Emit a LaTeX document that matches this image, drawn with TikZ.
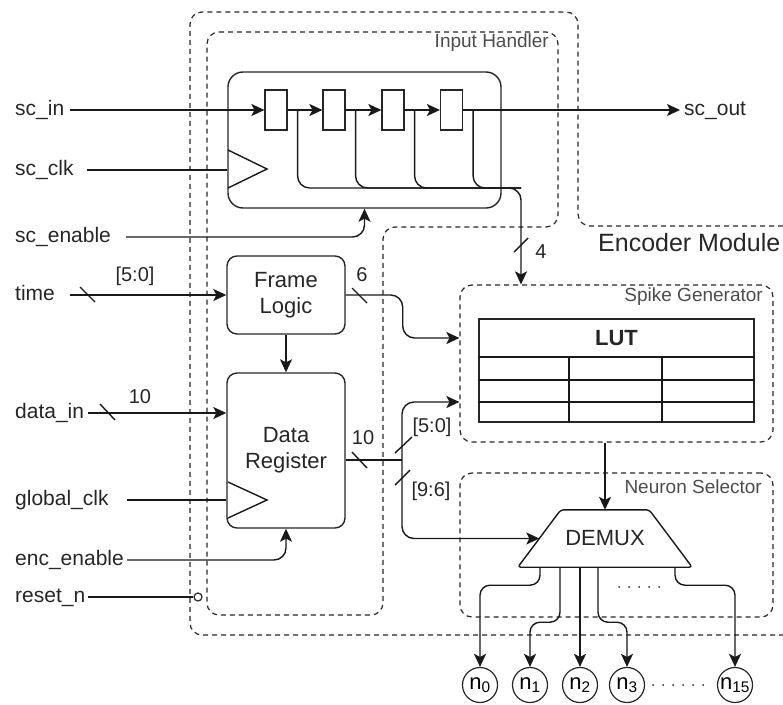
\documentclass[tikz,border=0pt]{standalone}
\usepackage{fontspec}
\setmainfont{Liberation Sans}
\usetikzlibrary{arrows.meta}
\tikzset{
  block/.style={
    rectangle, rounded corners=10pt,
    draw=black!85, line width=1.4pt,
    align=center, text=black!85,
    font=\fontsize{22}{26}\selectfont
  },
  flipflop/.style={
    rectangle, draw=black!85, line width=1.2pt,
    minimum width=22pt, minimum height=40pt, inner sep=0pt
  },
  demuxbox/.style={
    rectangle, minimum width=174pt, minimum height=57pt, inner sep=0pt,
    text=black!85, font=\fontsize{22}{26}\selectfont
  },
  region/.style={
    draw=black!85, line width=1.2pt,
    dash pattern=on 5pt off 4pt, rounded corners=12pt
  },
  regionlabel/.style={font=\fontsize{19}{22}\selectfont, text=black!70, inner sep=0pt},
  port/.style={
    font=\fontsize{21}{25}\selectfont, text=black!85,
    text height=15pt, text depth=5pt, inner sep=0pt, anchor=west
  },
  buslabel/.style={font=\fontsize{20}{24}\selectfont, text=black!85, inner sep=0pt},
  neuron/.style={
    circle, draw=black!85, line width=1.2pt,
    minimum size=35pt, inner sep=0pt,
    font=\fontsize{22}{26}\selectfont
  },
  wire/.style={draw=black!90, line width=1.4pt},
  arrow/.style={wire, -{Stealth[length=13pt, width=12pt, inset=3pt]}},
  slash/.style={wire},
  dotsline/.style={draw=black!85, line width=2pt, line cap=round, dash pattern=on 0pt off 10pt}
}

\begin{document}
\begin{tikzpicture}[x=1pt, y=-1pt]
\useasboundingbox (0,0) rectangle (783,704);

% ==============================================================================
% Regions
% ==============================================================================
\draw[region] (783,226) -- (578,226) -- (578,12) -- (190,12) -- (190,635) -- (783,635);
\node[font=\fontsize{25}{30}\selectfont, text=black!85, anchor=west, inner sep=0pt] (emlabel) at (598,243) {Encoder Module};

\draw[region] (207,32) -- (558,32) -- (558,227) -- (383,227) -- (383,615) -- (207,615) -- cycle;
\node[regionlabel, anchor=east] (ihlabel) at (549,43) {Input Handler};

\node[region, rectangle, minimum width=313pt, minimum height=157pt] (spikegen) at (616.5,363.5) {};
\node[regionlabel, anchor=east] (sglabel) at (763,297) {Spike Generator};

\node[region, rectangle, minimum width=313pt, minimum height=144pt] (neursel) at (616.5,545) {};
\node[regionlabel, anchor=east] (nslabel) at (762,487) {Neuron Selector};

% ==============================================================================
% Input handler blocks
% ==============================================================================
\node[block, rounded corners=15pt, minimum width=273pt, minimum height=136pt] (shiftreg) at (364.5,140) {};
\foreach \i/\x in {1/276, 2/334, 3/393, 4/451.5}
  \node[flipflop] (ff\i) at (\x,110) {};
\draw[wire] (228,150) -- (267,169) -- (228,188);

\node[block, minimum width=118pt, minimum height=78pt] (frame) at (286,295) {Frame\\Logic};
\node[block, minimum width=118pt, minimum height=155pt] (datareg) at (286,450.5) {Data\\Register};
\draw[wire] (228,482) -- (267,500) -- (228,518);

% ==============================================================================
% Spike generator and neuron selector
% ==============================================================================
\node[rectangle, draw=black!85, line width=1.4pt, minimum width=275pt, minimum height=103pt] (lut) at (616.5,370.5) {};
\node[font=\fontsize{22}{26}\selectfont\bfseries, text=black!85] (luthead) at (616.5,338) {LUT};
\foreach \y in {357, 380, 402}
  \draw[wire] (lut.west |- 0,\y) -- (lut.east |- 0,\y);
\foreach \x in {569, 662}
  \draw[wire] (\x,357) -- (lut.south -| \x,0);

\node[demuxbox] (demux) at (605,538.5) {DEMUX};
\draw[wire, rounded corners=3pt]
  (demux.south west) -- ([xshift=43pt]demux.north west) -- ([xshift=-43pt]demux.north east) -- (demux.south east) -- cycle;

\node[neuron] (n0) at (480,685) {n\textsubscript{0}};
\node[neuron] (n1) at (530,685) {n\textsubscript{1}};
\node[neuron] (n2) at (580,685) {n\textsubscript{2}};
\node[neuron] (n3) at (627,685) {n\textsubscript{3}};
\node[neuron] (n15) at (735,685) {n\textsubscript{15}};

% ==============================================================================
% Ports
% ==============================================================================
\node[port] (scin) at (15,110) {sc\_in};
\node[port] (scclk) at (15,170) {sc\_clk};
\node[port] (scen) at (15,237) {sc\_enable};
\node[port] (time) at (15,295) {time};
\node[port] (datain) at (15,413) {data\_in};
\node[port] (gclk) at (15,500) {global\_clk};
\node[port] (encen) at (15,560) {enc\_enable};
\node[port] (resetn) at (15,597) {reset\_n};
\node[port] (scout) at (684,110) {sc\_out};
\node[circle, draw=black!85, line width=1.2pt, minimum size=8pt, inner sep=0pt] (rstbub) at (198,597) {};

% ==============================================================================
% Arrows
% ==============================================================================
\draw[arrow] ([xshift=6pt]scin.east) -- (ff1.west);
\foreach \a/\b in {1/2, 2/3, 3/4}
  \draw[arrow] (ff\a.east) -- (ff\b.west);
\draw[arrow] (ff4.east) -- ([xshift=-4pt]scout.west);
\draw[wire] ([xshift=13pt]scclk.east) -- (scclk.east -| shiftreg.west);
\draw[arrow, rounded corners=12pt] ([xshift=15pt]scen.east) -| (shiftreg.south);

\coordinate (bus) at (521,188);
\draw[arrow, rounded corners=12pt] ([xshift=10pt]ff1.east) |- (bus) -- (bus |- spikegen.north);
\foreach \i in {2, 3, 4}
  \draw[wire, rounded corners=12pt] ([xshift=10pt]ff\i.east) |- (bus);
\draw[slash] (514,252) -- (528,238);
\node[buslabel] (w4) at (541,252) {4};

\draw[arrow] ([xshift=15pt]time.east) -- (frame.west);
\draw[slash] (80,287) -- (95,302);
\node[buslabel] (wtime) at (135,276) {[5:0]};

\draw[arrow] ([xshift=4pt]datain.east) -- (datain.east -| datareg.west);
\draw[slash] (100,404) -- (115,420);
\node[buslabel] (wdata) at (140,397) {10};

\draw[wire] ([xshift=18pt]gclk.east) -- (gclk.east -| datareg.west);
\draw[arrow, rounded corners=12pt] ([xshift=3pt]encen.east) -| (datareg.south);
\draw[wire] ([xshift=3pt]resetn.east) -- (rstbub.west);

\draw[arrow] (frame.south) -- (datareg.north);
\draw[arrow, rounded corners=12pt] (frame.east) -- ++(57,0) |- ([yshift=25.5pt]spikegen.west);
\draw[slash] (352,288) -- (367,303);
\node[buslabel] (wframe) at (362,275) {6};

\coordinate (split) at (402,460);
\draw[wire] (datareg.east |- split) -- (split);
\draw[slash] (352,452) -- (367,468);
\node[buslabel] (wreg) at (363,438) {10};
\draw[arrow, rounded corners=12pt] (split) |- ([yshift=-38.5pt]spikegen.west);
\draw[slash] (395,453) -- (412,437);
\node[buslabel] (wlow) at (432,427) {[5:0]};
\draw[arrow, rounded corners=12pt] (split) |- ([xshift=21.5pt]demux.west);
\draw[slash] (395,485) -- (410,470);
\node[buslabel] (whigh) at (431,491) {[9:6]};

\draw[arrow] (spikegen.south -| demux.north) -- (demux.north);

\draw[arrow, rounded corners=10pt] ([xshift=-65pt]demux.south) -- ++(0,18) -| (n0.north);
\draw[arrow, rounded corners=10pt] ([xshift=-45pt]demux.south) -- ++(0,55) -| (n1.north);
\draw[arrow] (n2.north |- demux.south) -- (n2.north);
\draw[arrow, rounded corners=10pt] ([xshift=-7pt]demux.south) -- ++(0,55) -| (n3.north);
\draw[arrow, rounded corners=10pt] ([xshift=70pt]demux.south) -- ++(0,18) -| (n15.north);
\draw[dotsline] (619,587) -- (667,587);
\draw[dotsline, shorten <=8pt, shorten >=6pt] (n3.east) -- (n15.west);

\end{tikzpicture}
\end{document}
